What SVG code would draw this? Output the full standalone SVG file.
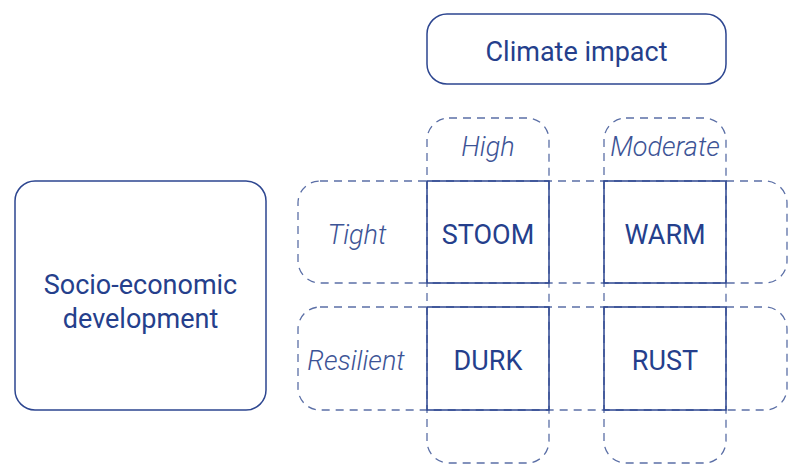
<svg xmlns="http://www.w3.org/2000/svg" width="795" height="474" viewBox="0 0 795 474">
<style>
.node{fill:none;stroke:#2d4690;stroke-width:1.5}
.dash{fill:none;stroke:#5b6fa6;stroke-width:1.3;stroke-dasharray:8 6}
.t{font-family:Roboto,"Liberation Sans",sans-serif;font-size:27px;fill:#253f8c;text-anchor:middle}
.it{font-family:Roboto,"Liberation Sans",sans-serif;font-size:27px;font-style:italic;font-weight:300;fill:#3d5496;text-anchor:middle}
</style>
<rect width="795" height="474" fill="#fff"/>
<g id="groups">
<rect class="dash" x="427" y="118" width="122" height="345" rx="22"/>
<rect class="dash" x="604" y="118" width="122" height="345" rx="22"/>
<rect class="dash" x="298" y="181" width="489" height="102" rx="22"/>
<rect class="dash" x="298" y="307" width="489" height="103" rx="22"/>
</g>
<g id="connectors"></g>
<g id="climate"><rect class="node" x="427" y="14" width="299" height="70" rx="20"/><text class="t" x="576.5" y="61">Climate impact</text></g>
<g id="socio"><rect class="node" x="15" y="181" width="251" height="229" rx="20"/><text class="t" x="140.5" y="294">Socio-economic</text><text class="t" x="140.5" y="328">development</text></g>
<g id="high"><text class="it" x="488" y="156">High</text></g>
<g id="moderate"><text class="it" x="665" y="156">Moderate</text></g>
<g id="tight"><text class="it" x="357" y="244">Tight</text></g>
<g id="resilient"><text class="it" x="356" y="370">Resilient</text></g>
<g id="stoom"><rect class="node" x="427" y="181" width="122" height="102"/><text class="t" x="488" y="244">STOOM</text></g>
<g id="warm"><rect class="node" x="604" y="181" width="122" height="102"/><text class="t" x="665" y="244">WARM</text></g>
<g id="durk"><rect class="node" x="427" y="307" width="122" height="103"/><text class="t" x="488" y="370">DURK</text></g>
<g id="rust"><rect class="node" x="604" y="307" width="122" height="103"/><text class="t" x="665" y="370">RUST</text></g>
</svg>
